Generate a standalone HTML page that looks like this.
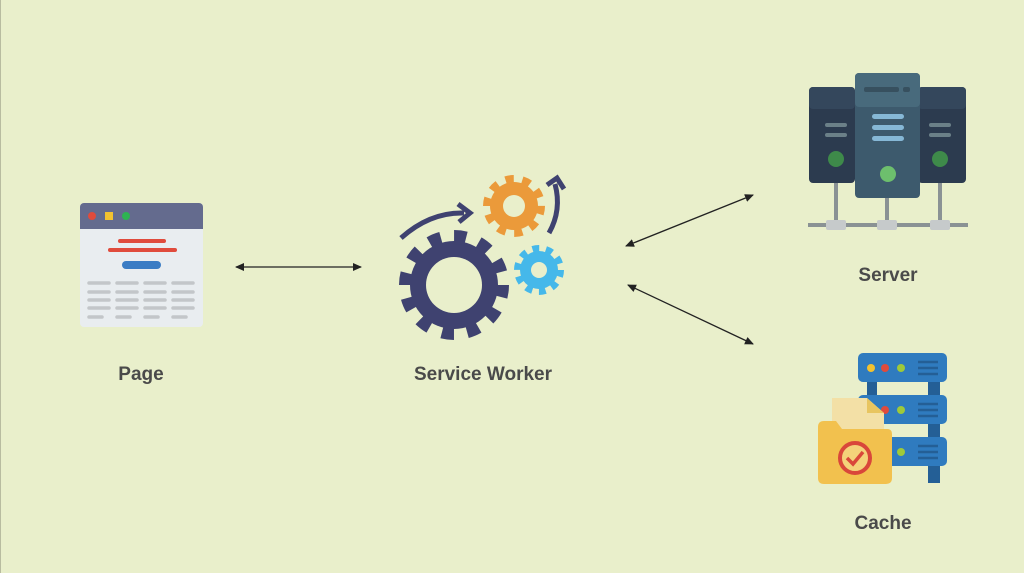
<!DOCTYPE html>
<html><head><style>html,body{margin:0;padding:0;background:#e9efcb}svg{display:block}</style></head><body>
<svg width="1024" height="573" viewBox="0 0 1024 573" xmlns="http://www.w3.org/2000/svg">
<defs><marker id="a" markerWidth="10" markerHeight="10" refX="8" refY="5" orient="auto-start-reverse" markerUnits="userSpaceOnUse"><path d="M0,1 L9,5 L0,9 Z" fill="#222"/></marker></defs>
<rect width="1024" height="573" fill="#e9efcb"/>
<line x1="0.5" y1="0" x2="0.5" y2="573" stroke="#b8bca0"/>
<!-- Page -->
<rect x="80" y="203" width="123" height="124" rx="4" fill="#e9edf0"/>
<path d="M84,203 H199 A4,4 0 0 1 203,207 V229 H80 V207 A4,4 0 0 1 84,203Z" fill="#646b8e"/>
<circle cx="92" cy="216" r="4" fill="#e04b3c"/><rect x="105" y="212" width="8" height="8" fill="#f2c230"/><circle cx="126" cy="216" r="4" fill="#2eb352"/>
<line x1="120" y1="241" x2="164" y2="241" stroke="#e04b3c" stroke-width="4" stroke-linecap="round"/>
<line x1="110" y1="250" x2="175" y2="250" stroke="#e04b3c" stroke-width="4" stroke-linecap="round"/>
<rect x="122" y="261" width="39" height="8" rx="4" fill="#3a7cc4"/>
<g stroke="#c3c6c9" stroke-width="3.5" stroke-linecap="round">
<path d="M89,283h20M117,283h20M145,283h20M173,283h20M89,292h20M117,292h20M145,292h20M173,292h20M89,300h20M117,300h20M145,300h20M173,300h20M89,308h20M117,308h20M145,308h20M173,308h20M89,317h13M117,317h13M145,317h13M173,317h13"/>
</g>
<text x="141" y="380" text-anchor="middle" font-family="Liberation Sans,sans-serif" font-weight="bold" font-size="19" fill="#4a4a4a">Page</text>
<!-- arrows -->
<line x1="236" y1="267" x2="361" y2="267" stroke="#222" stroke-width="1.3" marker-start="url(#a)" marker-end="url(#a)"/>
<line x1="626" y1="246" x2="753" y2="195" stroke="#222" stroke-width="1.3" marker-start="url(#a)" marker-end="url(#a)"/>
<line x1="628" y1="285" x2="753" y2="344" stroke="#222" stroke-width="1.3" marker-start="url(#a)" marker-end="url(#a)"/>
<!-- gears -->
<circle cx="454" cy="285" r="44" fill="#3f4270"/>
<circle cx="454" cy="285" r="48" fill="none" stroke="#3f4270" stroke-width="14" stroke-dasharray="12 13.1"/>
<circle cx="454" cy="285" r="28" fill="#e9efcb"/>
<circle cx="514" cy="206" r="24" fill="#eb9a3a"/>
<circle cx="514" cy="206" r="26" fill="none" stroke="#eb9a3a" stroke-width="10" stroke-dasharray="8 8.3"/>
<circle cx="514" cy="206" r="11" fill="#e9efcb"/>
<circle cx="539" cy="270" r="19" fill="#45b8ea"/>
<circle cx="539" cy="270" r="21" fill="none" stroke="#45b8ea" stroke-width="8" stroke-dasharray="6.6 6.6"/>
<circle cx="539" cy="270" r="8" fill="#e9efcb"/>
<path d="M401,238 Q430,212 464,213" fill="none" stroke="#3f4270" stroke-width="5"/>
<path d="M458,204 L470,213 L459,222" fill="none" stroke="#3f4270" stroke-width="5"/>
<path d="M549,233 Q562,210 555,184" fill="none" stroke="#3f4270" stroke-width="5"/>
<path d="M547,185 L557,178 L564,189" fill="none" stroke="#3f4270" stroke-width="5"/>
<text x="483" y="380" text-anchor="middle" font-family="Liberation Sans,sans-serif" font-weight="bold" font-size="19" fill="#4a4a4a">Service Worker</text>
<!-- server -->
<g stroke="#8a9294" stroke-width="4"><line x1="808" y1="225" x2="968" y2="225"/><line x1="836" y1="180" x2="836" y2="225"/><line x1="887" y1="195" x2="887" y2="225"/><line x1="940" y1="180" x2="940" y2="225"/></g>
<rect x="826" y="220" width="20" height="10" rx="2" fill="#c6cacb"/><rect x="877" y="220" width="20" height="10" rx="2" fill="#c6cacb"/><rect x="930" y="220" width="20" height="10" rx="2" fill="#c6cacb"/>
<rect x="809" y="87" width="46" height="96" rx="4" fill="#2c3b4f"/>
<rect x="809" y="87" width="46" height="22" rx="4" fill="#34475c"/>
<rect x="918" y="87" width="48" height="96" rx="4" fill="#2c3b4f"/>
<rect x="918" y="87" width="48" height="22" rx="4" fill="#34475c"/>
<rect x="825" y="123" width="22" height="4" rx="2" fill="#6b8088"/><rect x="825" y="133" width="22" height="4" rx="2" fill="#6b8088"/>
<rect x="929" y="123" width="22" height="4" rx="2" fill="#6b8088"/><rect x="929" y="133" width="22" height="4" rx="2" fill="#6b8088"/>
<circle cx="836" cy="159" r="8" fill="#3e8a4a"/><circle cx="940" cy="159" r="8" fill="#3e8a4a"/>
<rect x="855" y="73" width="65" height="125" rx="4" fill="#3d5a6d"/>
<rect x="855" y="73" width="65" height="34" rx="4" fill="#486a7c"/>
<rect x="864" y="87" width="35" height="5" rx="2" fill="#37505f"/><rect x="903" y="87" width="7" height="5" rx="2" fill="#37505f"/>
<rect x="872" y="114" width="32" height="5" rx="2.5" fill="#86b8d6"/><rect x="872" y="125" width="32" height="5" rx="2.5" fill="#86b8d6"/><rect x="872" y="136" width="32" height="5" rx="2.5" fill="#86b8d6"/>
<circle cx="888" cy="174" r="8" fill="#6dbf6d"/>
<text x="888" y="281" text-anchor="middle" font-family="Liberation Sans,sans-serif" font-weight="bold" font-size="19" fill="#4a4a4a">Server</text>
<!-- cache -->
<rect x="867" y="375" width="10" height="60" fill="#245f96"/><rect x="928" y="375" width="12" height="108" fill="#245f96"/>
<rect x="858" y="353" width="89" height="29" rx="5" fill="#2f7bbf"/>
<rect x="858" y="395" width="89" height="29" rx="5" fill="#2f7bbf"/>
<rect x="858" y="437" width="89" height="29" rx="5" fill="#2f7bbf"/>
<g fill="none" stroke="#245f96" stroke-width="2.5"><path d="M918,362h20M918,368h20M918,374h20M918,404h20M918,410h20M918,416h20M918,446h20M918,452h20M918,458h20"/></g>
<circle cx="871" cy="368" r="4" fill="#f2c230"/><circle cx="885" cy="368" r="4" fill="#e04b3c"/><circle cx="901" cy="368" r="4" fill="#9ec93a"/>
<circle cx="885" cy="410" r="4" fill="#e04b3c"/><circle cx="901" cy="410" r="4" fill="#9ec93a"/><circle cx="901" cy="452" r="4" fill="#9ec93a"/>
<path d="M832,398 H867 L884,413 V445 H832Z" fill="#f3e0a6"/>
<path d="M867,398 V413 H884Z" fill="#e8c560"/>
<path d="M818,427 Q818,421 824,421 H836 L842,429 H887 Q892,429 892,434 V478 Q892,484 886,484 H824 Q818,484 818,478Z" fill="#f2c14e"/>
<circle cx="855" cy="458" r="15" fill="#f4d27a" stroke="#d9473a" stroke-width="4"/>
<path d="M847,458 L853,464 L863,452" fill="none" stroke="#d9473a" stroke-width="3.5"/>
<text x="883" y="529" text-anchor="middle" font-family="Liberation Sans,sans-serif" font-weight="bold" font-size="19" fill="#4a4a4a">Cache</text>
</svg>
</body></html>
